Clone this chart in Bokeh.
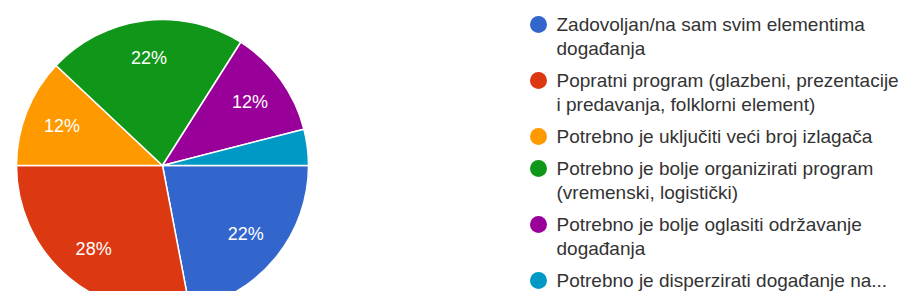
import numpy as np
from bokeh.plotting import figure
from bokeh.models import Range1d, ColumnDataSource
from bokeh.core.properties import value
from bokeh.embed import file_html
from bokeh.resources import INLINE

# ---- data ----
categories = [
    "Zadovoljan/na sam svim elementima\ndogađanja",
    "Popratni program (glazbeni, prezentacije\ni predavanja, folklorni element)",
    "Potrebno je uključiti veći broj izlagača",
    "Potrebno je bolje organizirati program\n(vremenski, logistički)",
    "Potrebno je bolje oglasiti održavanje\ndogađanja",
    "Potrebno je disperzirati događanje na...",
]
counts = [11, 14, 6, 11, 6, 2]
colors = ["#3366cc", "#dc3912", "#ff9900", "#109618", "#990099", "#0099c6"]

# ---- layout (pixel coordinates inside figure, y measured upward) ----
W, H = 900, 291
FONT = "Liberation Sans"
cx, cy, R = 162, H - 165, 146

p = figure(width=W, height=H, x_range=Range1d(0, W), y_range=Range1d(0, H),
           output_backend="svg", toolbar_location=None, min_border=0)
p.axis.visible = False
p.grid.visible = False
p.outline_line_color = None
p.background_fill_color = "white"
p.border_fill_color = "white"

vals = np.array(counts, dtype=float)
frac = vals / vals.sum()
cum = np.concatenate([[0], np.cumsum(frac)])
start = -cum[:-1] * 2 * np.pi
end = -cum[1:] * 2 * np.pi

src = ColumnDataSource(dict(start=start, end=end, color=colors))
p.wedge(x=cx, y=cy, radius=R, start_angle="start", end_angle="end",
        direction="clock", fill_color="color", line_color="white",
        line_width=1.5, source=src)

# percentage labels
mid = -(cum[:-1] + frac / 2) * 2 * np.pi
lx, ly, lt = [], [], []
for m, f in zip(mid, frac):
    if f >= 0.05:
        lx.append(cx + 0.74 * R * np.cos(m))
        ly.append(cy + 0.74 * R * np.sin(m))
        lt.append(f"{round(f * 100)}%")
p.text(x=lx, y=ly, text=lt, text_color="white", text_font=value(FONT),
       text_font_size="18px", text_align="center", text_baseline="middle")

# legend
lh, gap = 24, 8
y = H - 24  # first item centre
mx, my, tx, ty, tt = [], [], [], [], []
for cat in categories:
    lines = cat.split("\n")
    mx.append(538)
    my.append(y)
    for i, ln in enumerate(lines):
        tx.append(556)
        ty.append(y - i * lh)
        tt.append(ln)
    y -= len(lines) * lh + gap
p.scatter(x=mx, y=my, size=17, marker="circle", fill_color=colors, line_color=None)
p.text(x=tx, y=ty, text=tt, text_color="#333333", text_font=value(FONT),
       text_font_size="19px", text_align="left", text_baseline="middle")

open("out.html", "w").write(file_html(p, INLINE))
